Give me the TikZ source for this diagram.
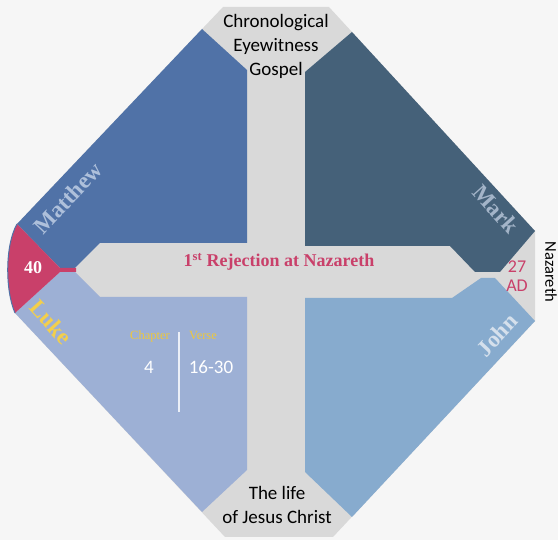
\documentclass[tikz,border=0pt]{standalone}
\usepackage{fontspec}
\setmainfont{Liberation Serif}
\newfontfamily\sansf{Carlito}
\definecolor{bgc}{HTML}{F6F6F6}
\definecolor{greyc}{HTML}{D9D9D9}
\definecolor{matc}{HTML}{5072A7}
\definecolor{markc}{HTML}{456179}
\definecolor{lukec}{HTML}{9DB0D5}
\definecolor{johnc}{HTML}{87ABCE}
\definecolor{crim}{HTML}{C9406A}
\definecolor{gold}{HTML}{F3CF4B}
\definecolor{goldsmall}{HTML}{EEC83C}
\definecolor{matt}{HTML}{AEC0DB}
\definecolor{markt}{HTML}{A3B4C8}
\definecolor{johnt}{HTML}{D5E0EC}
\begin{document}
\begin{tikzpicture}[x=1pt,y=-1pt,
  txt/.style={inner sep=0pt, outer sep=0pt},
  gospel/.style={txt, font=\fontsize{23}{23}\selectfont\bfseries},
  sanstxt/.style={txt, font=\sansf\fontsize{19}{24}\selectfont, align=center}]
\useasboundingbox (0,0) rectangle (558,540);
\fill[bgc] (0,0) rectangle (558,540);
% grey octagon
\fill[greyc] (223,7) -- (329,7) -- (535,231) -- (535,321) -- (333,537) -- (225,537) -- (15,313) -- (17,224) -- cycle;
% quadrants
\fill[matc] (202,29) -- (247,70) -- (247,243) -- (100,243) -- (75,268) -- (60,268) -- (17,224) -- cycle;
\fill[markc] (352,32) -- (305,72) -- (305,246) -- (450,246) -- (475,272) -- (500,272) -- (535,231) -- cycle;
\fill[lukec] (15,313) -- (60,272) -- (75,272) -- (100,297) -- (247,297) -- (247,470) -- (202,512) -- cycle;
\fill[johnc] (305,298) -- (452,298) -- (481,278) -- (495,278) -- (535,321) -- (352,517) -- (305,472) -- cycle;
% crimson wedge
\fill[crim] (17,224) -- (60,268) -- (76,268) -- (76,272) -- (60,272) -- (15,313) .. controls (5,290) and (5,245) .. (17,224) -- cycle;
\draw[matc, line width=1pt] (15,313) .. controls (5,290) and (5,245) .. (17,224);
% texts
\node[sanstxt] (top) at (276,46) {Chronological\\Eyewitness\\Gospel};
\node[sanstxt] (bottom) at (277,505) {The life\\of Jesus Christ};
\node[txt, crim, font=\fontsize{18}{18}\selectfont\bfseries] (rej) at (279,262) {1\textsuperscript{st} Rejection at Nazareth};
\node[gospel, matt, rotate=47] (matthew) at (68,198) {Matthew};
\node[gospel, markt, rotate=-48] (mark) at (496,209) {Mark};
\node[gospel, gold, rotate=-48] (luke) at (51,322) {Luke};
\node[gospel, johnt, rotate=47] (john) at (497,335) {John};
\node[txt, white, font=\fontsize{18}{18}\selectfont\bfseries] (forty) at (33,268) {40};
\node[txt, crim, font=\sansf\fontsize{18}{18.5}\selectfont, align=center] (ad) at (517,276) {27\\AD};
\node[txt, black, font=\sansf\fontsize{16.5}{16.5}\selectfont, rotate=-90] (naz) at (551,272) {Nazareth};
\node[txt, goldsmall, font=\fontsize{12.5}{12.5}\selectfont] (chap) at (150,336) {Chapter};
\node[txt, goldsmall, font=\fontsize{12.5}{12.5}\selectfont] (verse) at (203,336) {Verse};
\node[txt, white, font=\sansf\fontsize{19}{19}\selectfont] (four) at (149,367) {4};
\node[txt, white, font=\sansf\fontsize{19}{19}\selectfont] (verses) at (211,367) {16-30};
\draw[white!80!lukec, line width=1.3pt] (179,332) -- (179,412);
\end{tikzpicture}
\end{document}
